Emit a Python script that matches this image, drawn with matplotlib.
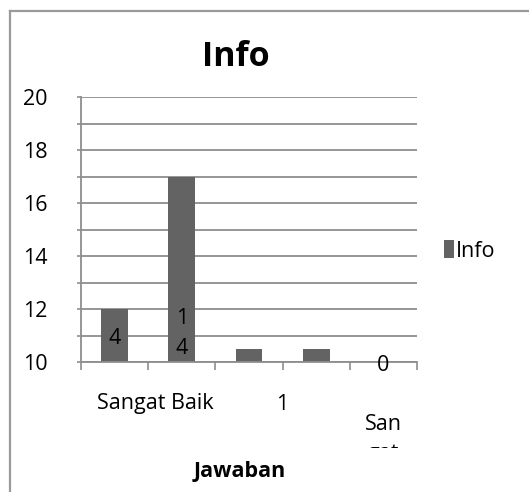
import matplotlib
matplotlib.use("Agg")
import matplotlib.pyplot as plt
from matplotlib.patches import Patch
from matplotlib.transforms import Bbox, IdentityTransform, TransformedBbox, blended_transform_factory
from matplotlib.lines import Line2D

plt.rcParams['font.family'] = ['Open Sans', 'DejaVu Sans']

# Series data
positions = [1, 2, 3, 4, 5]
values = [12, 17, 10.5, 10.5, 10]
bar_labels = ["4", "1\n4", "", "", "0"]
label_y = [10.9, 11.08, None, None, 9.85]

# Category axis labels as displayed
cat_labels = ["Sangat Baik", "1", "San\ngat"]
cat_pos = [1.6, 3.5, 5.0]

y_ticks = [10, 12, 14, 16, 18, 20]
series_name = "Info"

bar_color = "#636363"
grid_color = "#8e8e8e"
fs = 15.5

W, H = 529, 492
fig = plt.figure(figsize=(W / 100, H / 100), dpi=100)
fig.patch.set_facecolor("white")

# chart area border (top and left visible)
fig.add_artist(Line2D([10 / W, 10 / W], [0, 1 - 11 / H], color="#9a9a9a", lw=1.6))
fig.add_artist(Line2D([10 / W, 1], [1 - 11 / H, 1 - 11 / H], color="#9a9a9a", lw=1.6))

ax = fig.add_axes([81 / W, 1 - 362 / H, 336 / W, 265 / H])
ax.bar(positions, values, width=0.40, color=bar_color, zorder=3, bottom=0)
ax.set_xlim(0.5, 5.5)
ax.set_ylim(10, 20)

# horizontal gridlines at every unit
ax.set_yticks(range(10, 21), minor=True)
ax.set_yticks(y_ticks)
ax.set_yticklabels([str(v) for v in y_ticks], fontsize=fs)
ax.yaxis.grid(True, which="both", color=grid_color, lw=1.3, zorder=0)
ax.tick_params(axis="y", which="both", length=3, width=1.2, color=grid_color, pad=21)

# category boundary tick marks
ax.set_xticks([0.5, 1.5, 2.5, 3.5, 4.5, 5.5])
ax.set_xticklabels([])
ax.tick_params(axis="x", length=6, width=1.2, color=grid_color, direction="out")

for s in ["top", "right"]:
    ax.spines[s].set_visible(False)
for s in ["left", "bottom"]:
    ax.spines[s].set_color(grid_color)
    ax.spines[s].set_linewidth(1.3)
ax.spines["bottom"].set_zorder(4)

# data labels
for x, lab, ly in zip(positions, bar_labels, label_y):
    if lab:
        ax.text(x, ly, lab, ha="center", va="center", fontsize=fs,
                color="black", zorder=5, clip_on=False, linespacing=1.6)

# category labels below the axis
trans = blended_transform_factory(ax.transData, fig.transFigure)
clip = TransformedBbox(Bbox.from_extents(0, 44, W, H), IdentityTransform())
label_fig_y = [1 - 404 / H, 1 - 404 / H, 1 - 421 / H]
for x, lab, fy in zip(cat_pos, cat_labels, label_fig_y):
    if "\n" in lab:
        t = ax.text(x, fy + 7 / H, lab, transform=trans, ha="center", va="top",
                    fontsize=fs, linespacing=1.53)
        t.set_clip_box(clip)
        t.set_clip_on(True)
    else:
        ax.text(x, fy, lab, transform=trans, ha="center", va="center",
                fontsize=fs, clip_on=False)

# titles
fig.text(236 / W, 1 - 57 / H, "Info", ha="center", va="center",
         fontsize=24.5, fontweight="bold")
fig.text(240 / W, 1 - 472 / H, "Jawaban", ha="center", va="center",
         fontsize=fs, fontweight="bold")

# legend
fig.legend(handles=[Patch(facecolor=bar_color, label=series_name)],
           loc="center left", bbox_to_anchor=(444 / W, 1 - 251 / H),
           frameon=False, fontsize=fs, handlelength=0.45, handleheight=0.9,
           handletextpad=0.12, borderpad=0, borderaxespad=0)

fig.savefig("out.png", dpi=100)
